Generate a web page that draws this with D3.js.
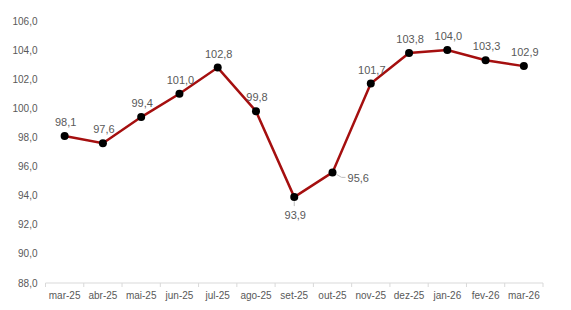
<!DOCTYPE html>
<html>
<head>
<meta charset="utf-8">
<script src="https://cdn.jsdelivr.net/npm/d3@7"></script>
<style>
  body { margin: 0; background: #fff; }
  svg { display: block; font-family: "Liberation Sans", Arial, sans-serif; }
</style>
</head>
<body>
<svg id="chart" width="571" height="310"></svg>
<script>
const months = ["mar-25", "abr-25", "mai-25", "jun-25", "jul-25", "ago-25", "set-25",
                "out-25", "nov-25", "dez-25", "jan-26", "fev-26", "mar-26"];
const values = [98.1, 97.6, 99.4, 101.0, 102.8, 99.8, 93.9, 95.6, 101.7, 103.8, 104.0, 103.3, 102.9];
const yTicks = [88, 90, 92, 94, 96, 98, 100, 102, 104, 106];

const fmt = v => v.toFixed(1).replace(".", ",");

const svg = d3.select("#chart");
const margin = { top: 21, right: 28, bottom: 27, left: 45.5 },
    width = 571 - margin.left - margin.right,
    height = 310 - margin.top - margin.bottom;

const g = svg.append("g").attr("transform", `translate(${margin.left},${margin.top})`);

const x = d3.scaleBand().domain(months).range([0, width]);
const y = d3.scaleLinear().domain([88, 106]).range([height, 0]);

// x axis line and ticks between categories
g.append("line")
    .attr("x1", 0).attr("x2", width)
    .attr("y1", height).attr("y2", height)
    .attr("stroke", "#d9d9d9");
g.selectAll(".xt")
    .data(d3.range(months.length + 1))
    .join("line")
    .attr("x1", i => i * x.bandwidth()).attr("x2", i => i * x.bandwidth())
    .attr("y1", height).attr("y2", height + 4)
    .attr("stroke", "#d9d9d9");

g.selectAll(".xl")
    .data(months)
    .join("text")
    .attr("x", d => x(d) + x.bandwidth() / 2)
    .attr("y", height + 16)
    .attr("text-anchor", "middle")
    .attr("font-size", 10)
    .attr("fill", "#595959")
    .text(d => d);

g.selectAll(".yl")
    .data(yTicks)
    .join("text")
    .attr("x", -8)
    .attr("y", d => y(d) + 3.5)
    .attr("text-anchor", "end")
    .attr("font-size", 10)
    .attr("fill", "#595959")
    .text(d => fmt(d));

const cx = (d, i) => x(months[i]) + x.bandwidth() / 2;

const line = d3.line()
    .x(cx)
    .y(d => y(d));

g.append("path")
    .datum(values)
    .attr("d", line)
    .attr("fill", "none")
    .attr("stroke", "#a50f0f")
    .attr("stroke-width", 2.5);

g.selectAll(".pt")
    .data(values)
    .join("circle")
    .attr("cx", cx)
    .attr("cy", d => y(d))
    .attr("r", 4)
    .attr("fill", "#000");

// leader lines for the two labels not placed above
const p6 = [cx(values[6], 6), y(values[6])];
g.append("line")
    .attr("x1", p6[0]).attr("x2", p6[0])
    .attr("y1", p6[1] + 4).attr("y2", p6[1] + 9)
    .attr("stroke", "#bfbfbf");
const p7 = [cx(values[7], 7), y(values[7])];
g.append("polyline")
    .attr("points", `${p7[0] + 4},${p7[1] + 2} ${p7[0] + 9},${p7[1] + 5} ${p7[0] + 13},${p7[1] + 5}`)
    .attr("fill", "none")
    .attr("stroke", "#bfbfbf");

g.selectAll(".dl")
    .data(values)
    .join("text")
    .attr("x", (d, i) => i === 7 ? cx(d, i) + 15 : cx(d, i) + 1)
    .attr("y", (d, i) => i === 6 ? y(d) + 22 : i === 7 ? y(d) + 9.5 : y(d) - 10)
    .attr("text-anchor", (d, i) => i === 7 ? "start" : "middle")
    .attr("font-size", 11)
    .attr("fill", "#595959")
    .text(d => fmt(d));
</script>
</body>
</html>
